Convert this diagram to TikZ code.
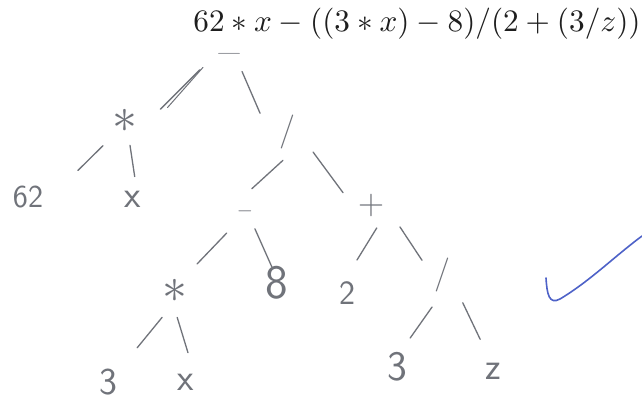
\documentclass[tikz,border=0pt]{standalone}
\usepackage{graphicx}
\usetikzlibrary{calc}
\definecolor{pencil}{RGB}{112,115,122}
\definecolor{tick}{RGB}{78,98,200}
\definecolor{print}{RGB}{30,30,30}
\tikzset{
  hand/.style={text=pencil, inner sep=0pt, font=\sffamily},
  edge/.style={draw=pencil, line width=1.3pt, line cap=round},
}
\newcommand\fs[1]{\fontsize{#1}{#1}\selectfont}
\newcommand\tedge[6]{\draw[edge] ($(#1)!#3!(#2)+(#4)$) -- ($(#1)!#5!(#2)+(#6)$);}
\begin{document}
\begin{tikzpicture}[x=1pt,y=-1pt]
\useasboundingbox[fill=white] (0,0) rectangle (642,401);
% printed formula
\node[text=print, inner sep=0pt] (formula) at (417,24)
  {\resizebox{447pt}{!}{$62*x-((3*x)-8)/(2+(3/z))$}};
% handwritten tree nodes
\node[hand, font=\sffamily\fs{14}] (root) at (229,54) {\scalebox{2.5}[1.3]{$-$}};
\node[hand, font=\sffamily\fs{24}] (m1) at (125,121) {\scalebox{2}{$\ast$}};
\node[hand, font=\sffamily\fs{32}] (n62) at (28,197) {62};
\node[hand, font=\sffamily\fs{38}] (x1) at (133,199) {x};
\node[hand, font=\sffamily\fs{34}] (d1) at (287,132) {/};
\node[hand, font=\sffamily\fs{20}] (s1) at (245,211) {$-$};
\node[hand, font=\sffamily\fs{24}] (p) at (371,205) {\scalebox{1.45}{$+$}};
\node[hand, font=\sffamily\fs{24}] (m2) at (175,291) {\scalebox{2}{$\ast$}};
\node[hand, font=\sffamily\fs{48}] (n8) at (277,283) {8};
\node[hand, font=\sffamily\fs{34}] (n2) at (347,293) {2};
\node[hand, font=\sffamily\fs{34}] (d2) at (442,275) {/};
\node[hand, font=\sffamily\fs{38}] (n3a) at (108,382) {3};
\node[hand, font=\sffamily\fs{38}] (x2) at (186,382) {x};
\node[hand, font=\sffamily\fs{42}] (n3b) at (397,367) {3};
\node[hand, font=\sffamily\fs{38}] (z) at (493,371) {z};
% connectors (short pencil strokes)
\tedge{root}{m1}{.28}{0,-3}{.66}{0,11}
\draw[edge, line width=1pt] ($(root)!.26!(m1)+(1,-4)$) -- ($(root)!.62!(m1)+(3,12)$);
\tedge{root}{d1}{.225}{0,0}{.76}{-13,0}
\tedge{m1}{n62}{.325}{9.5,0}{.65}{16,0}
\tedge{m1}{x1}{.3125}{2.5,0}{.7125}{4,0}
\tedge{d1}{s1}{.359}{11,0}{.718}{-5,0}
\tedge{d1}{p}{.31}{0,-2.6}{.667}{0,12}
\tedge{s1}{m2}{.275}{1,0}{.6625}{-1.6,0}
\tedge{s1}{n8}{.247}{2,0}{.78}{2,0}
\tedge{p}{n2}{.261}{12,0}{.625}{1,0}
\tedge{p}{d2}{.408}{0,-6.6}{.718}{0,5}
\tedge{d2}{n3b}{.348}{5.7,0}{.685}{-1,0}
\tedge{d2}{z}{.289}{6,0}{.67}{4,0}
\tedge{m2}{n3a}{.29}{6.5,0}{.624}{4,0}
\tedge{m2}{x2}{.29}{-1,0}{.677}{5.5,0}
% check mark
\draw[tick, line width=1.6pt, line cap=round]
  (546,278) .. controls (547,294) and (549,305) .. (560,299)
  .. controls (590,281) and (615,256) .. (642,236);
\end{tikzpicture}
\end{document}
